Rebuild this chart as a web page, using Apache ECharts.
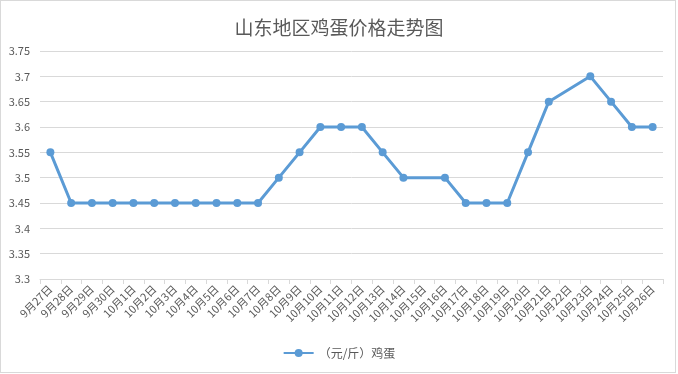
<!DOCTYPE html>
<html>
<head>
<meta charset="utf-8">
<script src="https://cdn.jsdelivr.net/npm/echarts@6/dist/echarts.min.js"></script>
<style>
html,body{margin:0;padding:0;background:#fff;}
#c{width:678px;height:374px;position:absolute;left:0;top:0;}
#b{position:absolute;left:0;top:0;width:674px;height:371px;border:1px solid #d9d9d9;pointer-events:none;}
</style>
</head>
<body>
<div id="c"></div>
<div id="b"></div>
<script>
const title = '山东地区鸡蛋价格走势图';
const seriesName = '（元/斤）鸡蛋';
const categories = ['9月27日','9月28日','9月29日','9月30日','10月1日','10月2日','10月3日','10月4日','10月5日','10月6日','10月7日','10月8日','10月9日','10月10日','10月11日','10月12日','10月13日','10月14日','10月15日','10月16日','10月17日','10月18日','10月19日','10月20日','10月21日','10月22日','10月23日','10月24日','10月25日','10月26日'];
const prices = [3.55,3.45,3.45,3.45,3.45,3.45,3.45,3.45,3.45,3.45,3.45,3.5,3.55,3.6,3.6,3.6,3.55,3.5,null,3.5,3.45,3.45,3.45,3.55,3.65,null,3.7,3.65,3.6,3.6];
const yMin = 3.3, yMax = 3.75, yStep = 0.05;

const chart = echarts.init(document.getElementById('c'));
const font = '"Noto Sans CJK SC", "Noto Sans", sans-serif';
chart.setOption({
  animation: false,
  textStyle: {fontFamily: font},
  title: {text: title, left: 'center', top: 13, textStyle: {fontSize: 19, fontWeight: 'normal', color: '#595959', fontFamily: font}},
  grid: {left: 40, right: 15, top: 51, bottom: 95, containLabel: false},
  legend: {bottom: 10, left: 'center', itemWidth: 30, itemHeight: 10, textStyle: {color: '#595959', fontSize: 12, fontFamily: font}, data: [seriesName]},
  xAxis: {
    type: 'category', data: categories, boundaryGap: true,
    axisLine: {lineStyle: {color: '#d9d9d9'}},
    axisTick: {show: true, length: 5, lineStyle: {color: '#d9d9d9'}},
    axisLabel: {rotate: 45, interval: 0, color: '#595959', fontSize: 11, margin: 8, fontFamily: font}
  },
  yAxis: {
    type: 'value', min: yMin, max: yMax, interval: yStep,
    axisLine: {show: false}, axisTick: {show: false},
    splitLine: {lineStyle: {color: '#d9d9d9'}},
    axisLabel: {color: '#595959', fontSize: 11, margin: 10, formatter: v => String(+v.toFixed(2)), fontFamily: font}
  },
  series: [{
    name: seriesName, type: 'line', data: prices, connectNulls: true,
    symbol: 'circle', symbolSize: 8,
    lineStyle: {color: '#5b9bd5', width: 3},
    itemStyle: {color: '#5b9bd5'}
  }]
});
</script>
</body>
</html>
